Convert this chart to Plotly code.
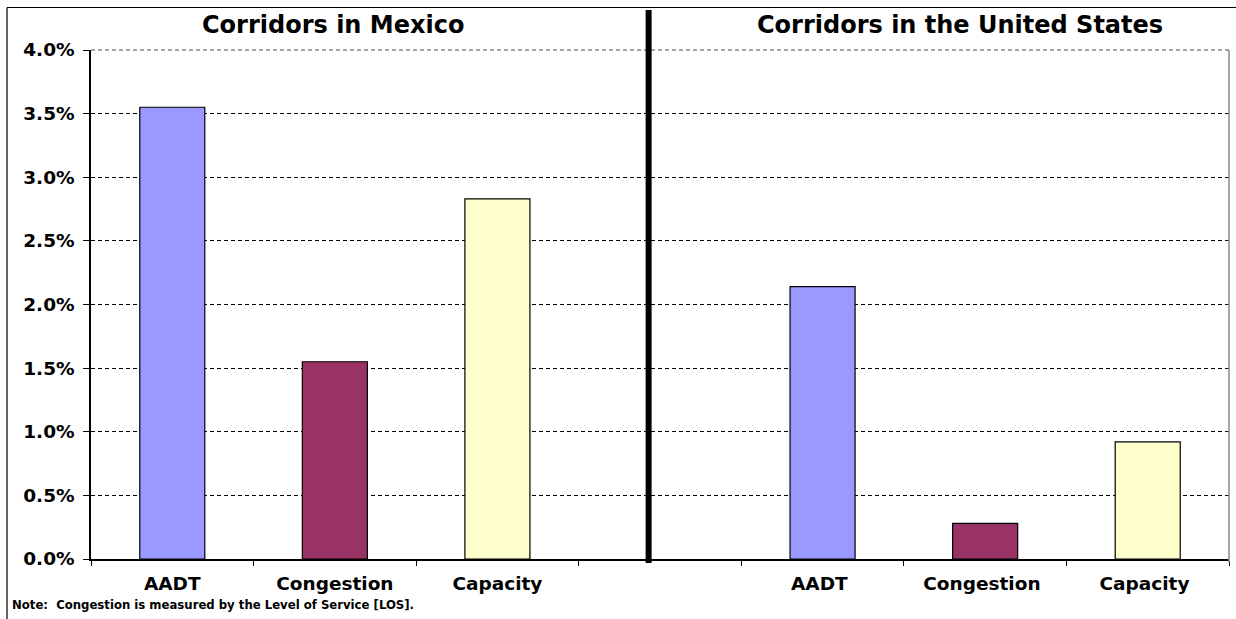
import plotly.graph_objects as go

categories = ["AADT", "Congestion", "Capacity", " ", "AADT ", "Congestion ", "Capacity "]
mexico_values = [3.55, 1.55, 2.83]
us_values = [2.14, 0.28, 0.92]
bar_colors = ["#9999FF", "#993366", "#FFFFCC"]
y_ticks = [0, 0.5, 1.0, 1.5, 2.0, 2.5, 3.0, 3.5, 4.0]
y_ticklabels = [f"{v:.1f}%" for v in y_ticks]
titles = ["Corridors in Mexico", "Corridors in the United States"]
note = "Note:  Congestion is measured by the Level of Service [LOS]."

values = mexico_values + [None] + us_values
colors = bar_colors + ["#FFFFFF"] + bar_colors

FONT = "DejaVu Sans, Verdana, sans-serif"

fig = go.Figure()
fig.add_trace(go.Bar(
    x=categories, y=values, width=0.4,
    marker=dict(color=colors, line=dict(color="black", width=1.2)),
    showlegend=False, hoverinfo="x+y",
))

fig.update_layout(
    width=1236, height=619,
    margin=dict(l=91, r=7, t=50, b=60),
    paper_bgcolor="white", plot_bgcolor="white",
    font=dict(family=FONT, color="black"),
    xaxis=dict(
        type="category", categoryorder="array", categoryarray=categories,
        range=[-0.5, 6.5], tickson="boundaries", ticks="outside", ticklen=5,
        tickcolor="black", tickwidth=1, showline=True, linecolor="black", linewidth=1.5,
        showgrid=False, tickfont=dict(family=FONT, size=18.5, color="black", weight="bold"),
        ticklabelstandoff=7, fixedrange=True,
    ),
    yaxis=dict(
        range=[0, 4.0], tickvals=y_ticks, ticktext=y_ticklabels, ticks="outside",
        ticklen=6, tickcolor="black", showline=True, linecolor="black", linewidth=1.5,
        showgrid=True, gridcolor="black", griddash="4px,3px", gridwidth=1.3,
        zeroline=False, tickfont=dict(family=FONT, size=18.5, color="black", weight="bold"),
        ticklabelstandoff=5, fixedrange=True,
    ),
    bargap=0.6,
)

# top grid line gray and right border gray
fig.add_shape(type="line", xref="paper", yref="paper", x0=0, x1=1, y0=1, y1=1,
              line=dict(color="#888888", width=1.3, dash="4px,3px"))
fig.add_shape(type="line", xref="paper", yref="paper", x0=1, x1=1, y0=-0.008, y1=1,
              line=dict(color="#888888", width=1.5))

# thick separator line
fig.add_shape(type="line", xref="x", yref="paper", x0=2.93, x1=2.93, y0=-0.0079, y1=1.0786,
              line=dict(color="black", width=6))

# outer border (left and top)
fig.add_shape(type="line", xref="paper", yref="paper", x0=-0.0738, x1=-0.0738, y0=-0.2, y1=1.0835,
              line=dict(color="black", width=1.2))
fig.add_shape(type="line", xref="paper", yref="paper", x0=-0.0738, x1=1.01, y0=1.0835, y1=1.0835,
              line=dict(color="black", width=1.2))

fig.add_annotation(text=titles[0], xref="paper", yref="paper", x=0.2127, y=1.049,
                   xanchor="center", yanchor="middle", showarrow=False,
                   font=dict(family=FONT, size=24, color="black", weight="bold"))
fig.add_annotation(text=titles[1], xref="paper", yref="paper", x=0.7636, y=1.049,
                   xanchor="center", yanchor="middle", showarrow=False,
                   font=dict(family=FONT, size=24, color="black", weight="bold"))
fig.add_annotation(text=note, xref="paper", yref="paper", x=-0.0712, y=-0.0904,
                   xanchor="left", yanchor="middle", showarrow=False,
                   font=dict(family=FONT, size=11.7, color="black", weight="bold"))

fig.write_html("out.html")
